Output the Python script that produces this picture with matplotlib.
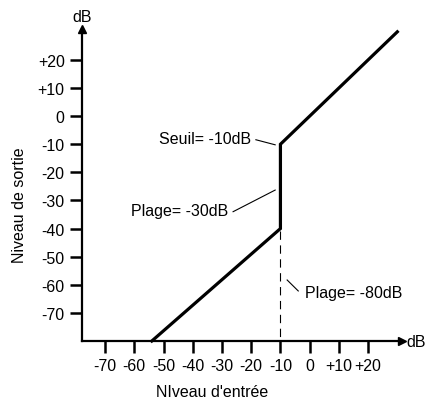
import matplotlib
matplotlib.use("Agg")
import matplotlib.pyplot as plt

plt.rcParams['font.family'] = ['Liberation Sans', 'DejaVu Sans']

# Transfer curve of the gate (input level -> output level, dB)
curve_in = [-54, -10, -10, 30]
curve_out = [-80, -40, -10, 30]

threshold = -10
range_floor = -40

x_ticks = [-70, -60, -50, -40, -30, -20, -10, 0, 10, 20]
x_tick_labels = ["-70", "-60", "-50", "-40", "-30", "-20", "-10", "0", "+10", "+20"]
y_ticks = [-70, -60, -50, -40, -30, -20, -10, 0, 10, 20]
y_tick_labels = ["-70", "-60", "-50", "-40", "-30", "-20", "-10", "0", "+10", "+20"]

fs = 11.5
W, H = 425, 402
fig = plt.figure(figsize=(W / 100, H / 100), dpi=100)
ax = fig.add_axes([82 / W, 60 / H, 320 / W, 312 / H])
ax.set_xlim(-77.9, 31.6)
ax.set_ylim(-80, 31)

for s in ("top", "right"):
    ax.spines[s].set_visible(False)
for s in ("left", "bottom"):
    ax.spines[s].set_linewidth(1.6)

ax.set_xticks(x_ticks)
ax.set_xticklabels(x_tick_labels)
ax.set_yticks(y_ticks)
ax.set_yticklabels(y_tick_labels)
ax.tick_params(axis="both", direction="out", length=8.5, width=1.8,
               labelsize=fs, pad=4)

# Axis arrow heads
ax.plot(0, 1, marker="^", color="black", markersize=5.5,
        transform=ax.transAxes, clip_on=False)
ax.plot(1, 0, marker=">", color="black", markersize=5.5,
        transform=ax.transAxes, clip_on=False)
fig.text(82 / W, 1 - 17 / H, "dB", ha="center", va="center", fontsize=fs)
fig.text(406 / W, 1 - 343 / H, "dB", ha="left", va="center", fontsize=fs)

# Curve
ax.plot(curve_in, curve_out, color="black", linewidth=2.3,
        solid_joinstyle="miter", clip_on=False)

# Dashed marker below the range floor
ax.plot([threshold, threshold], [range_floor - 1, -80], color="black",
        linewidth=0.8, linestyle=(0, (7.5, 5)))

# Annotations with leader lines
lw_lead = 0.8
ax.text(-19.9, -8.1, "Seuil= -10dB", ha="right", va="center", fontsize=fs)
ax.plot([-18.4, -11.8], [-8.4, -10.2], color="black", lw=lw_lead)

ax.text(-28.0, -33.7, "Plage= -30dB", ha="right", va="center", fontsize=fs)
ax.plot([-26.2, -11.8], [-34.0, -26.3], color="black", lw=lw_lead)

ax.text(-1.5, -62.6, "Plage= -80dB", ha="left", va="center", fontsize=fs)
ax.plot([-7.7, -3.9], [-58.3, -62.2], color="black", lw=lw_lead)

fig.text(20 / W, 1 - 205 / H, "Niveau de sortie", rotation=90,
         ha="center", va="center", fontsize=fs)
fig.text(212 / W, 1 - 393 / H, "NIveau d'entrée",
         ha="center", va="center", fontsize=fs)

fig.savefig("out.png", dpi=100)
